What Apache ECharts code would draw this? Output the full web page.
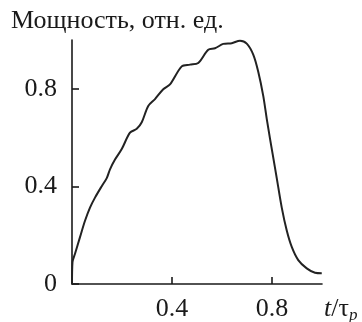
<!DOCTYPE html>
<html><head><meta charset="utf-8">
<script src="https://cdn.jsdelivr.net/npm/echarts@6/dist/echarts.min.js"></script>
<style>html,body{margin:0;padding:0;background:#fff}#c{width:362px;height:322px}</style>
</head><body><div id="c"></div>
<script>
const tValues = [0, 0.002, 0.012, 0.032, 0.052, 0.072, 0.092, 0.119, 0.139, 0.152, 0.172, 0.199, 0.232, 0.259, 0.279, 0.305, 0.332, 0.365, 0.392, 0.439, 0.472, 0.505, 0.545, 0.572, 0.605, 0.639, 0.672, 0.699, 0.725, 0.745, 0.765, 0.779, 0.792, 0.803, 0.819, 0.839, 0.859, 0.879, 0.905, 0.939, 0.972, 0.999];
const powerValues = [0.0, 0.09, 0.124, 0.192, 0.259, 0.313, 0.354, 0.401, 0.434, 0.47, 0.51, 0.553, 0.62, 0.636, 0.663, 0.73, 0.758, 0.798, 0.818, 0.892, 0.899, 0.906, 0.96, 0.966, 0.984, 0.987, 0.997, 0.985, 0.94, 0.87, 0.771, 0.677, 0.596, 0.53, 0.434, 0.313, 0.219, 0.152, 0.098, 0.064, 0.046, 0.044];
const xTickValues = [0.4, 0.8];
const yTickValues = [0, 0.4, 0.8];
const titleText = 'Мощность, отн. ед.';
const xAxisName = '{i|t}{n|/τ}{s|p}';

const serif = '"Liberation Serif", "Times New Roman", serif';
const ink = '#1a1a1a';
const chart = echarts.init(document.getElementById('c'), null, {renderer: 'canvas'});
const fmt = v => v === 0 ? '0' : v.toFixed(1);
chart.setOption({
  animation: false,
  backgroundColor: '#fff',
  title: {
    text: titleText, left: 11, top: 8, padding: 0,
    textStyle: {fontFamily: serif, fontSize: 26, fontWeight: 'normal', color: ink}
  },
  grid: {left: 72, right: 40, top: 40, bottom: 34.5, containLabel: false},
  xAxis: {
    type: 'value', min: 0, max: 1.0, interval: 0.4,
    axisLine: {show: true, lineStyle: {color: ink, width: 1.6}},
    axisTick: {show: true, inside: true, length: 7, customValues: xTickValues, lineStyle: {color: ink, width: 1.6}},
    axisLabel: {show: true, customValues: xTickValues, formatter: fmt, margin: 12, fontFamily: serif, fontSize: 26, color: ink},
    splitLine: {show: false}
  },
  yAxis: {
    type: 'value', min: 0, max: 1.0, interval: 0.4,
    axisLine: {show: true, lineStyle: {color: ink, width: 1.6}},
    axisTick: {show: true, inside: true, length: 7, customValues: yTickValues, lineStyle: {color: ink, width: 1.6}},
    axisLabel: {show: true, customValues: yTickValues, formatter: fmt, margin: 15, padding: [4, 0, 0, 0], fontFamily: serif, fontSize: 26, color: ink},
    splitLine: {show: false}
  },
  graphic: [{
    type: 'text', left: 324, top: 296,
    style: {
      text: xAxisName, fill: ink,
      rich: {
        i: {fontFamily: serif, fontSize: 26, fontStyle: 'italic', fill: ink},
        n: {fontFamily: serif, fontSize: 26, fill: ink},
        s: {fontFamily: serif, fontSize: 17, fontStyle: 'italic', fill: ink, padding: [14, 0, 0, 0]}
      }
    }
  }],
  series: [{
    type: 'line', showSymbol: false, smooth: 0.3,
    data: tValues.map((t, i) => [t, powerValues[i]]),
    lineStyle: {color: '#222', width: 2},
    z: 3
  }]
});
</script></body></html>
